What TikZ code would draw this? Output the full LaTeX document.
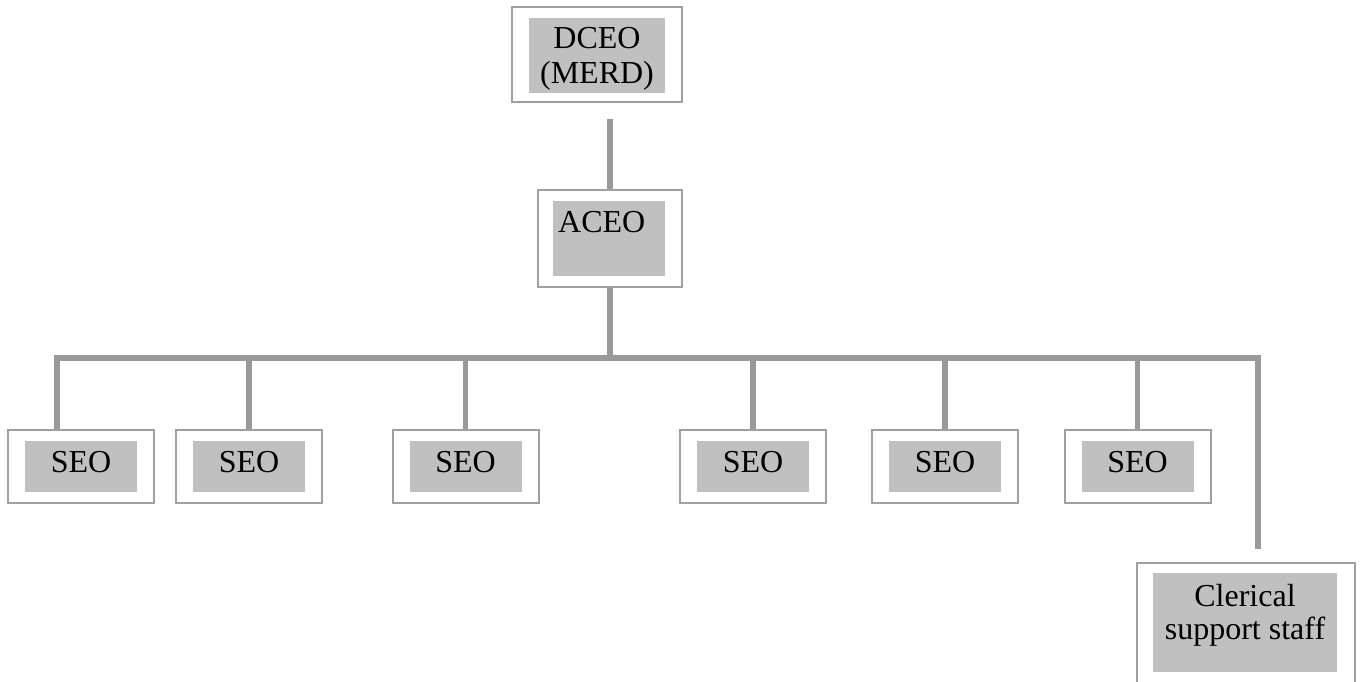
\documentclass[tikz,border=0pt]{standalone}
\usepackage{fontspec}
\setmainfont{Liberation Serif}
\usetikzlibrary{positioning}

\definecolor{linegray}{HTML}{999999}
\definecolor{framegray}{HTML}{A0A0A0}
\definecolor{fillgray}{HTML}{C0C0C0}

\tikzset{
  orgframe/.style={draw=framegray, line width=2pt, fill=white, inner sep=0pt,
    minimum width=146pt, minimum height=73pt},
  orgfill/.style={fill=fillgray, inner sep=0pt, align=center, text depth=10pt,
    minimum width=112pt, minimum height=51pt, font=\fontsize{32}{35}\selectfont},
  orgline/.style={draw=linegray, line width=5.5pt},
}

\begin{document}
\begin{tikzpicture}[x=1pt, y=-1pt]
  \useasboundingbox (0,0) rectangle (1360,681);
  \clip (0,0) rectangle (1360,681);

  % Define nodes
  \node[orgframe, minimum width=170pt, minimum height=95pt] (dceo) at (597,54.5) {};
  \node[orgfill, minimum width=136pt, minimum height=75pt, text depth=1pt] (dceo-in) at (597,55.5) {DCEO\\(MERD)};

  \node[orgframe, minimum width=144pt, minimum height=97pt] (aceo) at (610,238.5) {};
  \node[orgfill, minimum height=75pt] (aceo-in) at (609,238.5) {};
  \node[font=\fontsize{32}{35}\selectfont, inner sep=0pt, anchor=base west] (aceo-txt) at (558,232) {ACEO};

  \node[orgframe] (seo1) at (80.5,466.5) {};
  \node[orgfill] (seo1-in) at (81,466.5) {SEO};
  \node[orgframe] (seo2) at (249,466.5) {};
  \node[orgfill] (seo2-in) at (249,466.5) {SEO};
  \node[orgframe] (seo3) at (465.5,466.5) {};
  \node[orgfill] (seo3-in) at (465.5,466.5) {SEO};
  \node[orgframe] (seo4) at (753,466.5) {};
  \node[orgfill] (seo4-in) at (753,466.5) {SEO};
  \node[orgframe] (seo5) at (945,466.5) {};
  \node[orgfill] (seo5-in) at (945,466.5) {SEO};
  \node[orgframe] (seo6) at (1137.5,466.5) {};
  \node[orgfill] (seo6-in) at (1137.5,466.5) {SEO};

  \node[orgframe, minimum width=218pt, minimum height=121pt] (clerical) at (1246,623.5) {};
  \node[orgfill, minimum width=184pt, minimum height=99pt, text depth=21pt] (clerical-in) at (1245,622.5) {Clerical\\[-2pt]support staff};

  \coordinate (busL) at (57,358);
  \coordinate (busR) at (1258,358);

  % Connect the nodes
  \draw[orgline, shorten <=16pt] (dceo.south -| aceo.north) -- (aceo.north);
  \draw[orgline] (aceo.south) -- (aceo.south |- busL);
  \draw[orgline] (busL |- seo1.north) -- (busL) -- (busR) -- ([yshift=13pt]busR |- clerical.north);
  \draw[orgline] (seo2.north) -- (seo2.north |- busL);
  \draw[orgline] (seo3.north) -- (seo3.north |- busL);
  \draw[orgline] (seo4.north) -- (seo4.north |- busL);
  \draw[orgline] (seo5.north) -- (seo5.north |- busL);
  \draw[orgline] (seo6.north) -- (seo6.north |- busL);

\end{tikzpicture}
\end{document}
